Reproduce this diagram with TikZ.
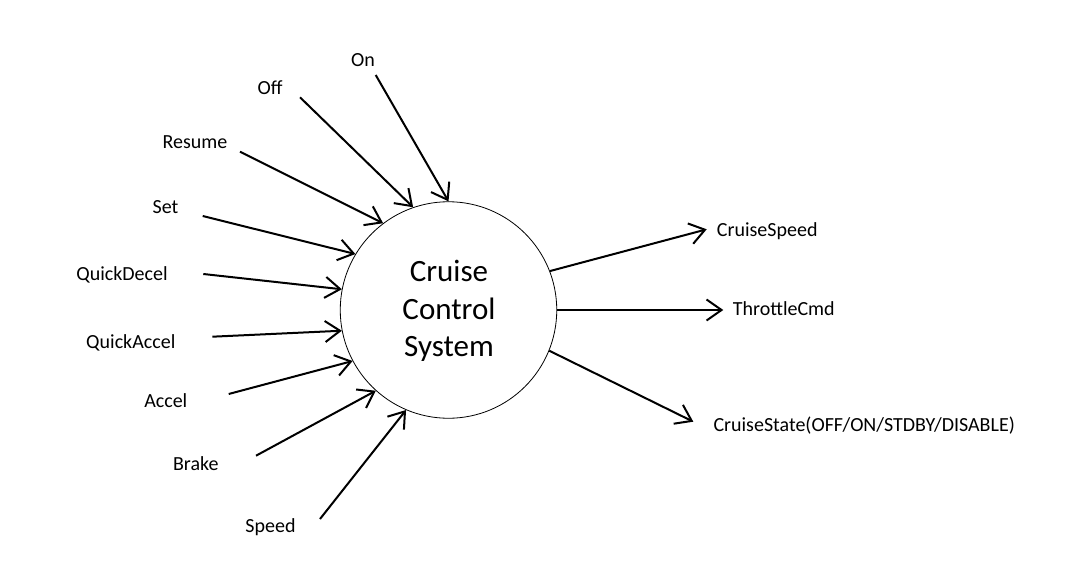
\documentclass[tikz,border=0pt]{standalone}
\usepackage{fontspec}
\setmainfont{Carlito}
\usetikzlibrary{arrows.meta}
\begin{document}
\begin{tikzpicture}[x=1pt,y=-1pt,
  lbl/.style={font=\fontsize{20}{24}\selectfont, anchor=base, inner sep=0pt},
  outlbl/.style={lbl, anchor=base west},
  flow/.style={line width=2pt, -{Straight Barb[length=15pt,width=21pt,line width=2pt]}},
  system/.style={circle, draw, line width=0.8pt, minimum size=216.5pt, inner sep=0pt},
]
\useasboundingbox (0,0) rectangle (1075,580);
\fill[white] (0,0) rectangle (1075,580);
\node[system] (cc) at (448.5,310) {};
\node[font=\fontsize{31}{37.5}\selectfont, align=center, inner sep=0pt] (title) at (449,311) {Cruise\\Control\\System};

% input labels
\node[lbl] (on) at (363,66.5) {On};
\node[lbl] (off) at (270,94.5) {Off};
\node[lbl] (resume) at (195,149) {Resume};
\node[lbl] (set) at (165.5,213) {Set};
\node[lbl] (qdecel) at (122,280) {QuickDecel};
\node[lbl] (qaccel) at (130.8,348) {QuickAccel};
\node[lbl] (accel) at (165.8,407) {Accel};
\node[lbl] (brake) at (195.8,470) {Brake};
\node[lbl] (speed) at (270.5,532) {Speed};

% input starts
\coordinate (son) at (375.7,75);
\coordinate (soff) at (300,97.3);
\coordinate (sresume) at (240,151.7);
\coordinate (sset) at (202.7,216);
\coordinate (sqdecel) at (203.3,274);
\coordinate (sqaccel) at (212.3,336.7);
\coordinate (saccel) at (228.7,394);
\coordinate (sbrake) at (256,455.7);
\coordinate (sspeed) at (320,519);

\draw[flow] (son) -- (cc.90);
\draw[flow] (soff) -- (cc.109.6);
\draw[flow] (sresume) -- (cc.127.4);
\draw[flow] (sset) -- (cc.149.6);
\draw[flow] (sqdecel) -- (cc.169.5);
\draw[flow] (sqaccel) -- (cc.191);
\draw[flow] (saccel) -- (cc.208.4);
\draw[flow] (sbrake) -- (cc.228.4);
\draw[flow] (sspeed) -- (cc.247.9);

% outputs
\node[outlbl] (cspeed) at (716.7,236.5) {CruiseSpeed};
\node[outlbl] (thr) at (732.7,315) {ThrottleCmd};
\node[outlbl] (cstate) at (713.3,431) {CruiseState(OFF/ON/STDBY/DISABLE)};

\coordinate (tcspeed) at (706.7,229.3);
\coordinate (tthr) at (723.3,310);
\coordinate (tcstate) at (693.3,421.7);

\draw[flow] (cc.21.5) -- (tcspeed);
\draw[flow] (cc.0) -- (tthr);
\draw[flow] (cc.-22.7) -- (tcstate);
\end{tikzpicture}
\end{document}
